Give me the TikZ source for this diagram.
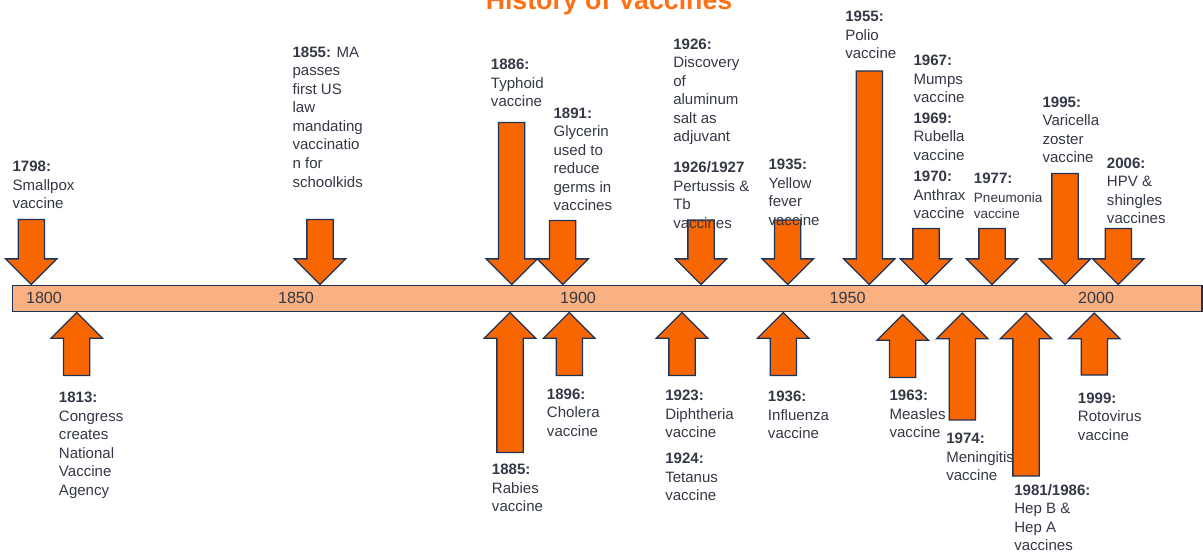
\documentclass[tikz,border=0pt]{standalone}
\usepackage{fontspec}
\setmainfont{Liberation Sans}
\usepackage{tikz}
\usetikzlibrary{shapes.arrows, positioning}
\definecolor{vacorange}{RGB}{248,102,0}
\definecolor{barorange}{RGB}{250,176,128}
\definecolor{edgenavy}{RGB}{28,50,90}
\definecolor{textgray}{RGB}{51,56,68}
\definecolor{titleorange}{RGB}{255,112,20}

\begin{document}
\begin{tikzpicture}[
    x=0.025cm, y=-0.025cm,
    title/.style={font=\bfseries\fontsize{19}{22}\selectfont, text=titleorange, inner sep=0pt, anchor=base},
    tbar/.style={draw=edgenavy, fill=barorange, line width=0.9pt, minimum width=29.735cm, minimum height=0.65cm, inner sep=0pt},
    blockarr/.style={single arrow, draw=edgenavy, fill=vacorange, line width=0.9pt, inner xsep=0pt, inner ysep=0.3125cm, outer sep=0pt, single arrow head extend=0.3125cm, anchor=tip},
    darr/.style={blockarr, rotate=-90, minimum height=#1*0.025cm},
    uarr/.style={blockarr, rotate=90, minimum height=#1*0.025cm},
    yr/.style={font=\fontsize{11.5}{13}\selectfont, text=textgray, inner sep=0pt},
    event/.style={font=\fontsize{10.7}{13.2}\selectfont, text=textgray, align=left, anchor=north west, inner sep=0pt}
]
\useasboundingbox (0,0) rectangle (1203,555);

% Title
\node[title] (title) at (609,9) {History of Vaccines};

% Timeline bar
\node[tbar] (bar) at (607,298.7) {};
\node[yr] (y1800) at (44,297.7) {1800};
\node[yr] (y1850) at (296,297.7) {1850};
\node[yr] (y1900) at (578,297.7) {1900};
\node[yr] (y1950) at (847.7,297.7) {1950};
\node[yr] (y2000) at (1096,297.7) {2000};

% Arrows above the bar
\node[darr=65] (a1798) at (31.3,284.5) {};
\node[darr=65] (a1855) at (320,284.5) {};
\node[darr=162] (a1886) at (511.7,284.5) {};
\node[darr=64] (a1891) at (562.7,284.5) {};
\node[darr=64.5] (a1926) at (701,284.5) {};
\node[darr=64.5] (a1935) at (787.7,284.5) {};
\node[darr=213.5] (a1955) at (869.3,284.5) {};
\node[darr=56] (a1967) at (926,284.5) {};
\node[darr=56] (a1977) at (992,284.5) {};
\node[darr=111] (a1995) at (1065,284.5) {};
\node[darr=56] (a2006) at (1118.3,284.5) {};

% Arrows below the bar
\node[uarr=63] (a1813) at (76.7,312.5) {};
\node[uarr=140] (a1885) at (510,312.5) {};
\node[uarr=63] (a1896) at (569.3,312.5) {};
\node[uarr=63] (a1923) at (682,312.5) {};
\node[uarr=63] (a1936) at (783.3,312.5) {};
\node[uarr=63] (a1963) at (902.7,314.5) {};
\node[uarr=107] (a1974) at (962.3,313) {};
\node[uarr=163] (a1981) at (1026,313) {};
\node[uarr=62] (a1999) at (1094.3,313) {};

% Events above
\node[event] (e1798) at (12.3,161) {\textbf{1798:}\\Smallpox\\vaccine};
\node[event] (e1855) at (292.3,46.3) {\textbf{1855:} MA\\passes\\first US\\law\\mandating\\vaccinatio\\n for\\schoolkids};
\node[event] (e1886) at (490.7,59) {\textbf{1886:}\\Typhoid\\vaccine};
\node[event] (e1891) at (553.3,107.3) {\textbf{1891:}\\Glycerin\\used to\\reduce\\germs in\\vaccines};
\node[event] (e1926) at (673,38.3) {\textbf{1926:}\\Discovery\\of\\aluminum\\salt as\\adjuvant};
\node[event] (e1927) at (673,161.3) {\textbf{1926/1927}\\Pertussis \&\\Tb\\vaccines};
\node[event] (e1935) at (768.3,159) {\textbf{1935:}\\Yellow\\fever\\vaccine};
\node[event] (e1955) at (845,10.7) {\textbf{1955:}\\Polio\\vaccine};
\node[event] (e1967) at (913.3,54.7) {\textbf{1967:}\\Mumps\\vaccine};
\node[event] (e1969) at (913.3,112.3) {\textbf{1969:}\\Rubella\\vaccine};
\node[event] (e1970) at (913.3,170.7) {\textbf{1970:}\\Anthrax\\vaccine};
\node[event] (e1977) at (973.7,173) {\textbf{1977:}\\{\fontsize{9.6}{11}\selectfont Pneumonia}\\[-2pt]{\fontsize{9.6}{11}\selectfont vaccine}};
\node[event] (e1995) at (1042.3,96.3) {\textbf{1995:}\\Varicella\\zoster\\vaccine};
\node[event] (e2006) at (1106.7,157.3) {\textbf{2006:}\\HPV \&\\shingles\\vaccines};

% Events below
\node[event] (e1813) at (58.7,391.7) {\textbf{1813:}\\Congress\\creates\\National\\Vaccine\\Agency};
\node[event] (e1885) at (491.7,464) {\textbf{1885:}\\Rabies\\vaccine};
\node[event] (e1896) at (546.7,388.3) {\textbf{1896:}\\Cholera\\vaccine};
\node[event] (e1923) at (665,389.7) {\textbf{1923:}\\Diphtheria\\vaccine};
\node[event] (e1924) at (665,453) {\textbf{1924:}\\Tetanus\\vaccine};
\node[event] (e1936) at (767.7,390.7) {\textbf{1936:}\\Influenza\\vaccine};
\node[event] (e1963) at (889.3,389.7) {\textbf{1963:}\\Measles\\vaccine};
\node[event] (e1974) at (946,433) {\textbf{1974:}\\Meningitis\\vaccine};
\node[event] (e1981) at (1014,484) {\textbf{1981/1986:}\\Hep B \&\\Hep A\\vaccines};
\node[event] (e1999) at (1077.7,392.3) {\textbf{1999:}\\Rotovirus\\vaccine};

\end{tikzpicture}
\end{document}
